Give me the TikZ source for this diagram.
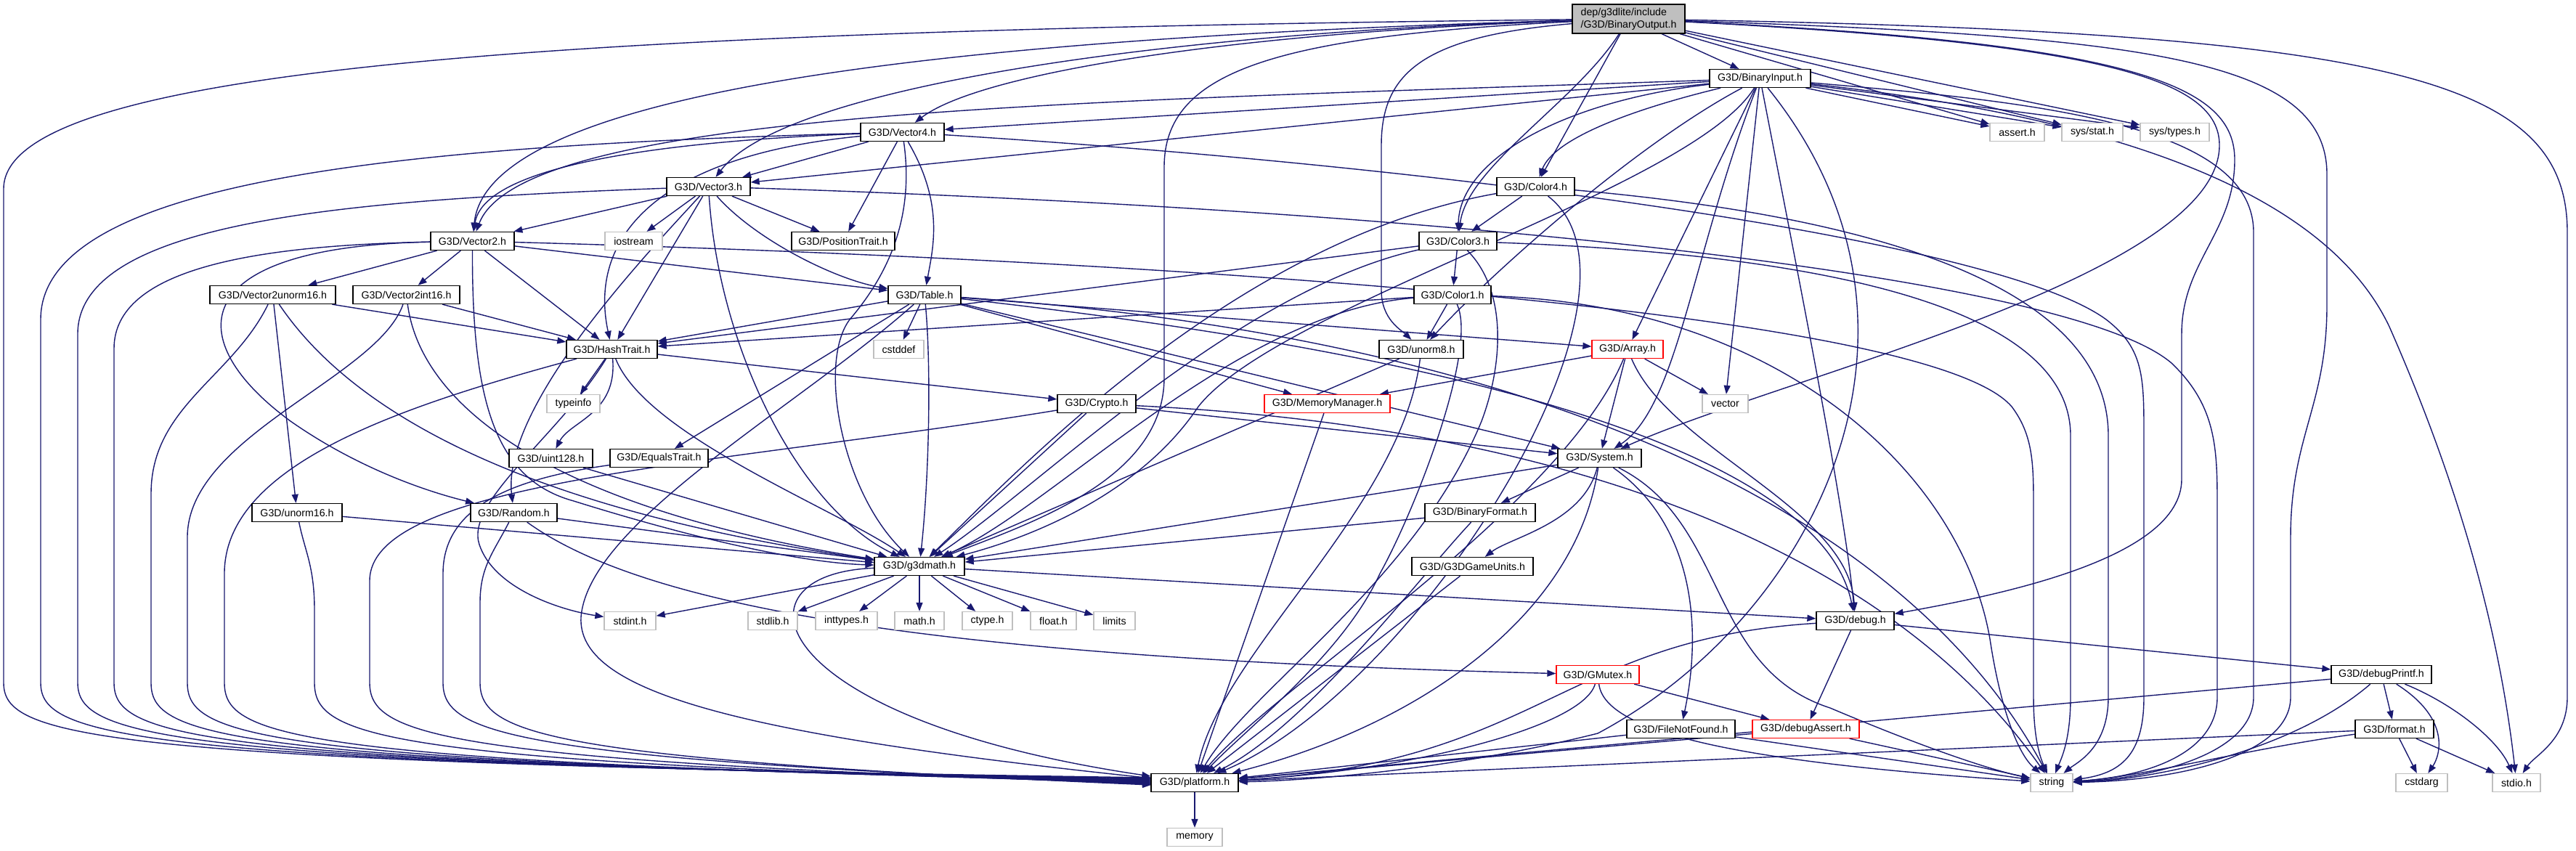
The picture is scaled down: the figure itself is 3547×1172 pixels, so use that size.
\documentclass[tikz,border=0pt]{standalone}
\usepackage{fontspec}
\setmainfont{Liberation Sans}
\usetikzlibrary{arrows.meta}
\definecolor{eb}{HTML}{191970}
\definecolor{lg}{HTML}{BFBFBF}
\pgfdeclarelayer{bglayer}
\pgfdeclarelayer{edgelayer}
\pgfsetlayers{bglayer,edgelayer,main}
\tikzset{
 nb/.style={draw=black, fill=white, line width=1.3pt, minimum height=25pt, inner sep=0pt, font=\fontsize{14.2}{17}\selectfont},
 ng/.style={nb, draw=lg},
 nr/.style={nb, draw=red},
 edg/.style={draw=eb, line width=1.4pt, -{Triangle[length=12pt,width=9pt]}},
}
\begin{document}
\begin{tikzpicture}[x=1pt,y=-1pt]
\begin{pgfonlayer}{bglayer}
\fill[white] (0,0) rectangle (3547,1172);
\end{pgfonlayer}
\useasboundingbox (0,0) rectangle (3547,1172);
% nodes
\node[nb,fill=lg,minimum width=155pt,minimum height=40pt,align=left] (rt) at (2242.5,26) {dep/g3dlite/include\\/G3D/BinaryOutput.h};
\node[nb,minimum width=139pt] (bi) at (2423.5,108) {G3D/BinaryInput.h};
\node[nb,minimum width=115pt] (v4) at (1242.5,182) {G3D/Vector4.h};
\node[ng,minimum width=75pt] (as) at (2777.5,182) {assert.h};
\node[ng,minimum width=84pt] (st) at (2881,182) {sys/stat.h};
\node[ng,minimum width=95pt] (ty) at (2994.5,182) {sys/types.h};
\node[nb,minimum width=115pt] (v3) at (975.5,257) {G3D/Vector3.h};
\node[nb,minimum width=107pt] (c4) at (2114.5,257) {G3D/Color4.h};
\node[nb,minimum width=115pt] (v2) at (650.5,332) {G3D/Vector2.h};
\node[ng,minimum width=79pt] (io) at (872.5,332) {iostream};
\node[nb,minimum width=142pt] (pt) at (1161,332) {G3D/PositionTrait.h};
\node[nb,minimum width=107pt] (c3) at (2007.5,332) {G3D/Color3.h};
\node[nb,minimum width=173pt] (v2u) at (375.5,406) {G3D/Vector2unorm16.h};
\node[nb,minimum width=147pt] (v2i) at (559.5,406) {G3D/Vector2int16.h};
\node[nb,minimum width=100pt] (tb) at (1273,406) {G3D/Table.h};
\node[nb,minimum width=106pt] (c1) at (2000,406) {G3D/Color1.h};
\node[nb,minimum width=125pt] (ht) at (842.5,481) {G3D/HashTrait.h};
\node[ng,minimum width=69pt] (cd) at (1237.5,481) {cstddef};
\node[nb,minimum width=116pt] (u8) at (1957,481) {G3D/unorm8.h};
\node[nr,minimum width=98pt] (ar) at (2241,481) {G3D/Array.h};
\node[ng,minimum width=73pt] (ti) at (789.5,556) {typeinfo};
\node[nb,minimum width=108pt] (cr) at (1510,556) {G3D/Crypto.h};
\node[nr,minimum width=173pt] (mm) at (1827.5,556) {G3D/MemoryManager.h};
\node[ng,minimum width=63pt] (ve) at (2375.5,556) {vector};
\node[nb,minimum width=115pt] (u128) at (758.5,631) {G3D/uint128.h};
\node[nb,minimum width=135pt] (eq) at (907.5,631) {G3D/EqualsTrait.h};
\node[nb,minimum width=115pt] (sy) at (2202.5,631) {G3D/System.h};
\node[nb,minimum width=124pt] (u16) at (409,706) {G3D/unorm16.h};
\node[nb,minimum width=119pt] (rn) at (707.5,706) {G3D/Random.h};
\node[nb,minimum width=152pt] (bf) at (2038,706) {G3D/BinaryFormat.h};
\node[nb,minimum width=124pt] (gm) at (1266,780) {G3D/g3dmath.h};
\node[nb,minimum width=167pt] (gu) at (2027.5,780) {G3D/G3DGameUnits.h};
\node[ng,minimum width=71pt] (si) at (867.5,855) {stdint.h};
\node[ng,minimum width=68pt] (sl) at (1064,855) {stdlib.h};
\node[ng,minimum width=85pt] (it) at (1165.5,855) {inttypes.h};
\node[ng,minimum width=68pt] (ma) at (1266,855) {math.h};
\node[ng,minimum width=69pt] (ct) at (1359.5,855) {ctype.h};
\node[ng,minimum width=63pt] (fl) at (1450.5,855) {float.h};
\node[ng,minimum width=57pt] (li) at (1534.5,855) {limits};
\node[nb,minimum width=107pt] (db) at (2554.5,855) {G3D/debug.h};
\node[nr,minimum width=114pt] (mx) at (2200,929) {G3D/GMutex.h};
\node[nb,minimum width=138pt] (dp) at (3279,929) {G3D/debugPrintf.h};
\node[nb,minimum width=149pt] (fn) at (2314.5,1004) {G3D/FileNotFound.h};
\node[nr,minimum width=147pt] (da) at (2486.5,1004) {G3D/debugAssert.h};
\node[nb,minimum width=108pt] (fo) at (3297,1004) {G3D/format.h};
\node[nb,minimum width=120pt] (pf) at (1645,1078) {G3D/platform.h};
\node[ng,minimum width=58pt] (sg) at (2825,1078) {string};
\node[ng,minimum width=71pt] (ca) at (3334.5,1078) {cstdarg};
\node[ng,minimum width=66pt] (sd) at (3465,1078) {stdio.h};
\node[ng,minimum width=76pt] (me) at (1645,1153) {memory};
\begin{pgfonlayer}{edgelayer}
% root
\draw[edg] (rt) -- (bi);
\draw[edg] (rt) -- (as);
\draw[edg] (rt) -- (st);
\draw[edg] (rt) -- (ty);
\draw[edg] (rt) -- (c4);
\draw[edg] (rt) .. controls (2170,140) and (2020,230) .. (c3);
\draw[edg] (rt) .. controls (1700,45) and (1350,100) .. (v4);
\draw[edg] (rt) .. controls (1600,45) and (1080,120) .. (v3);
\draw[edg] (rt) .. controls (1200,55) and (670,140) .. (v2);
\draw[edg] (rt) .. controls (800,42) and (5,90) .. (5,260) -- (5,940) .. controls (5,1015) and (120,1050) .. (1585,1071);
\draw[edg] (rt) .. controls (1750,50) and (1603,100) .. (1603,230) -- (1603,520) .. controls (1603,660) and (1420,720) .. (gm);
\draw[edg] (rt) .. controls (1960,50) and (1902,100) .. (1902,200) -- (1902,400) .. controls (1902,440) and (1930,455) .. (u8);
\draw[edg] (rt) .. controls (2900,60) and (3056,110) .. (3056,200) .. controls (3056,380) and (2450,520) .. (sy);
\draw[edg] (rt) .. controls (2950,60) and (3077,120) .. (3077,220) .. controls (3077,320) and (3004,360) .. (3004,460) -- (3004,660) .. controls (3004,770) and (2750,820) .. (db);
\draw[edg] (rt) .. controls (2950,50) and (3204,80) .. (3204,240) -- (3204,420) .. controls (3204,560) and (3154,600) .. (3154,740) -- (3154,960) .. controls (3154,1040) and (3000,1075) .. (sg);
\draw[edg] (rt) .. controls (3300,45) and (3535,110) .. (3535,320) -- (3535,960) .. controls (3535,1020) and (3490,1040) .. (sd);
% BinaryInput
\draw[edg] (bi) -- (as);
\draw[edg] (bi) -- (st);
\draw[edg] (bi) -- (ty);
\draw[edg] (bi) -- (v4);
\draw[edg] (bi) -- (v3);
\draw[edg] (bi) .. controls (1500,140) and (720,150) .. (v2);
\draw[edg] (bi) .. controls (2250,150) and (2140,190) .. (c4);
\draw[edg] (bi) .. controls (2150,140) and (2010,220) .. (c3);
\draw[edg] (bi) .. controls (2250,200) and (2050,380) .. (u8);
\draw[edg] (bi) .. controls (2330,260) and (1760,420) .. (1650,560) .. controls (1570,680) and (1420,740) .. (gm);
\draw[edg] (bi) -- (ar);
\draw[edg] (bi) -- (ve);
\draw[edg] (bi) .. controls (2330,350) and (2310,560) .. (sy);
\draw[edg] (bi) .. controls (2480,400) and (2540,700) .. (db);
\draw[edg] (bi) .. controls (2700,450) and (2500,850) .. (2200,1010) .. controls (2000,1060) and (1800,1075) .. (pf);
\draw[edg] (bi) .. controls (2800,140) and (3103,170) .. (3103,320) -- (3103,960) .. controls (3103,1040) and (2960,1072) .. (sg);
\draw[edg] (bi) .. controls (2900,160) and (3200,260) .. (3290,450) .. controls (3400,700) and (3445,900) .. (sd);
% Vector4
\draw[edg] (v4) -- (v3);
\draw[edg] (v4) .. controls (900,195) and (665,230) .. (v2);
\draw[edg] (v4) .. controls (900,215) and (810,330) .. (ht);
\draw[edg] (v4) -- (pt);
\draw[edg] (v4) .. controls (1300,280) and (1285,340) .. (tb);
\draw[edg] (v4) .. controls (1258,290) and (1230,370) .. (1170,440) .. controls (1125,500) and (1160,680) .. (gm);
\draw[edg] (v4) .. controls (600,200) and (56,240) .. (56,440) -- (56,940) .. controls (56,1015) and (170,1050) .. (1585,1072);
\draw[edg] (v4) .. controls (2000,230) and (2750,330) .. (2900,440) .. controls (2952,480) and (2952,520) .. (2952,600) -- (2952,960) .. controls (2952,1040) and (2920,1065) .. (sg);
% Vector3
\draw[edg] (v3) -- (v2);
\draw[edg] (v3) -- (io);
\draw[edg] (v3) -- (pt);
\draw[edg] (v3) .. controls (1040,330) and (1150,385) .. (tb);
\draw[edg] (v3) -- (ht);
\draw[edg] (v3) .. controls (990,480) and (1100,700) .. (gm);
\draw[edg] (v3) .. controls (890,350) and (690,560) .. (rn);
\draw[edg] (v3) .. controls (500,275) and (107,300) .. (107,460) -- (107,940) .. controls (107,1015) and (220,1050) .. (1585,1073);
\draw[edg] (v3) .. controls (2000,290) and (2850,380) .. (2990,500) .. controls (3053,560) and (3053,620) .. (3053,700) -- (3053,960) .. controls (3053,1040) and (2950,1070) .. (sg);
% Vector2
\draw[edg] (v2) -- (v2u);
\draw[edg] (v2) -- (v2i);
\draw[edg] (v2) -- (ht);
\draw[edg] (v2) -- (tb);
\draw[edg] (v2) .. controls (650,550) and (680,660) .. (790,690) .. controls (950,740) and (1100,775) .. (gm);
\draw[edg] (v2) .. controls (250,340) and (250,470) .. (400,580) .. controls (500,650) and (600,680) .. (rn);
\draw[edg] (v2) .. controls (350,338) and (157,370) .. (157,480) -- (157,940) .. controls (157,1015) and (260,1050) .. (1585,1074);
\draw[edg] (v2) .. controls (1500,355) and (2650,420) .. (2770,560) .. controls (2800,600) and (2800,640) .. (2800,700) -- (2800,960) .. controls (2800,1020) and (2810,1045) .. (sg);
% Vector2unorm16
\draw[edg] (v2u) -- (ht);
\draw[edg] (v2u) -- (u16);
\draw[edg] (v2u) .. controls (520,620) and (850,720) .. (gm);
\draw[edg] (v2u) .. controls (320,520) and (208,560) .. (208,680) -- (208,940) .. controls (208,1015) and (300,1050) .. (1585,1075);
% Vector2int16
\draw[edg] (v2i) -- (ht);
\draw[edg] (v2i) .. controls (580,560) and (760,700) .. (gm);
\draw[edg] (v2i) .. controls (520,520) and (258,600) .. (258,740) -- (258,940) .. controls (258,1015) and (350,1050) .. (1585,1076);
% HashTrait
\draw[edg] (ht) -- (ti);
\draw[edg] (ht) .. controls (850,570) and (785,580) .. (u128);
\draw[edg] (ht) -- (cr);
\draw[edg] (ht) .. controls (890,600) and (1150,700) .. (gm);
\draw[edg] (ht) .. controls (770,600) and (640,690) .. (660,750) .. controls (680,810) and (770,840) .. (si);
\draw[edg] (ht) .. controls (550,560) and (309,640) .. (309,790) -- (309,940) .. controls (309,1015) and (400,1050) .. (1585,1077);
% Table
\draw[edg] (tb) -- (ht);
\draw[edg] (tb) -- (cd);
\draw[edg] (tb) .. controls (1282,500) and (1280,650) .. (gm);
\draw[edg] (tb) -- (eq);
\draw[edg] (tb) -- (ar);
\draw[edg] (tb) -- (mm);
\draw[edg] (tb) -- (sy);
\draw[edg] (tb) .. controls (2300,520) and (2523,700) .. (db);
\draw[edg] (tb) .. controls (2200,470) and (2650,750) .. (sg);
\draw[edg] (tb) .. controls (1100,560) and (810,720) .. (800,850) .. controls (795,950) and (1000,1010) .. (pf);
% Color4
\draw[edg] (c4) -- (c3);
\draw[edg] (c4) .. controls (1700,330) and (1400,650) .. (gm);
\draw[edg] (c4) .. controls (2300,400) and (1950,950) .. (pf);
\draw[edg] (c4) .. controls (2600,300) and (2903,400) .. (2903,600) -- (2903,960) .. controls (2903,1030) and (2860,1050) .. (sg);
% Color3
\draw[edg] (c3) -- (c1);
\draw[edg] (c3) -- (ht);
\draw[edg] (c3) .. controls (1700,400) and (1420,680) .. (gm);
\draw[edg] (c3) .. controls (2075,400) and (2070,500) .. (2040,580) .. controls (1950,800) and (1720,950) .. (pf);
\draw[edg] (c3) .. controls (2500,350) and (2851,420) .. (2851,600) -- (2851,960) .. controls (2851,1020) and (2838,1045) .. (sg);
% Color1
\draw[edg] (c1) -- (u8);
\draw[edg] (c1) -- (ht);
\draw[edg] (c1) .. controls (1700,430) and (1450,700) .. (gm);
\draw[edg] (c1) .. controls (2035,480) and (1950,700) .. (1900,790) .. controls (1850,900) and (1720,1000) .. (pf);
\draw[edg] (c1) .. controls (2450,420) and (2700,650) .. (2740,880) .. controls (2755,980) and (2780,1040) .. (sg);
% unorm8, unorm16, uint128, EqualsTrait
\draw[edg] (u8) -- (gm);
\draw[edg] (u8) .. controls (1930,700) and (1680,900) .. (pf);
\draw[edg] (u16) -- (gm);
\draw[edg] (u16) .. controls (420,760) and (433,780) .. (433,840) -- (433,940) .. controls (433,1015) and (520,1050) .. (1585,1078);
\draw[edg] (u128) -- (gm);
\draw[edg] (eq) .. controls (700,660) and (610,700) .. (610,790) -- (610,940) .. controls (610,1010) and (700,1045) .. (1585,1080);
% Crypto
\draw[edg] (cr) -- (gm);
\draw[edg] (cr) -- (sy);
\draw[edg] (cr) .. controls (2400,600) and (2700,900) .. (sg);
\draw[edg] (cr) .. controls (1000,640) and (509,660) .. (509,800) -- (509,940) .. controls (509,1012) and (600,1048) .. (1585,1079);
% Random
\draw[edg] (rn) -- (gm);
\draw[edg] (rn) .. controls (880,830) and (1250,905) .. (mx);
\draw[edg] (rn) .. controls (680,760) and (661,780) .. (661,830) -- (661,940) .. controls (661,1010) and (750,1045) .. (1585,1081);
% Array
\draw[edg] (ar) -- (mm);
\draw[edg] (ar) -- (sy);
\draw[edg] (ar) -- (ve);
\draw[edg] (ar) .. controls (2300,620) and (2545,700) .. (db);
\draw[edg] (ar) .. controls (2150,700) and (1750,950) .. (pf);
\draw[edg] (mm) -- (pf);
% System
\draw[edg] (sy) -- (gm);
\draw[edg] (sy) -- (bf);
\draw[edg] (sy) .. controls (2180,720) and (2080,740) .. (gu);
\draw[edg] (sy) .. controls (2330,720) and (2345,860) .. (fn);
\draw[edg] (sy) .. controls (2380,720) and (2350,920) .. (2520,975) .. controls (2650,1030) and (2740,1060) .. (sg);
\draw[edg] (sy) .. controls (2170,850) and (1950,1000) .. (pf);
% BinaryFormat etc.
\draw[edg] (bf) -- (gm);
\draw[edg] (bf) .. controls (1950,800) and (1800,1000) .. (pf);
\draw[edg] (gu) -- (pf);
\draw[edg] (fn) -- (pf);
\draw[edg] (fn) -- (sg);
\draw[edg] (mx) -- (da);
\draw[edg] (mx) .. controls (2180,1000) and (1950,1060) .. (pf);
\draw[edg] (mx) .. controls (2210,1010) and (2400,1050) .. (sg);
\draw[edg] (da) -- (pf);
\draw[edg] (da) -- (sg);
% debug
\draw[edg] (db) -- (da);
\draw[edg] (db) -- (dp);
\draw[edg] (db) .. controls (2150,880) and (2120,1050) .. (pf);
\draw[edg] (dp) -- (pf);
\draw[edg] (dp) .. controls (3150,1040) and (2950,1075) .. (sg);
\draw[edg] (dp) -- (fo);
\draw[edg] (dp) .. controls (3375,990) and (3360,1040) .. (ca);
\draw[edg] (dp) .. controls (3380,970) and (3440,1020) .. (sd);
\draw[edg] (fo) -- (pf);
\draw[edg] (fo) .. controls (3100,1030) and (2950,1070) .. (sg);
\draw[edg] (fo) -- (ca);
\draw[edg] (fo) -- (sd);
% g3dmath
\draw[edg] (gm) -- (si);
\draw[edg] (gm) -- (sl);
\draw[edg] (gm) -- (it);
\draw[edg] (gm) -- (ma);
\draw[edg] (gm) -- (ct);
\draw[edg] (gm) -- (fl);
\draw[edg] (gm) -- (li);
\draw[edg] (gm) -- (db);
\draw[edg] (gm) .. controls (1000,790) and (1050,990) .. (pf);
\draw[edg] (pf) -- (me);
\end{pgfonlayer}
\end{tikzpicture}
\end{document}
